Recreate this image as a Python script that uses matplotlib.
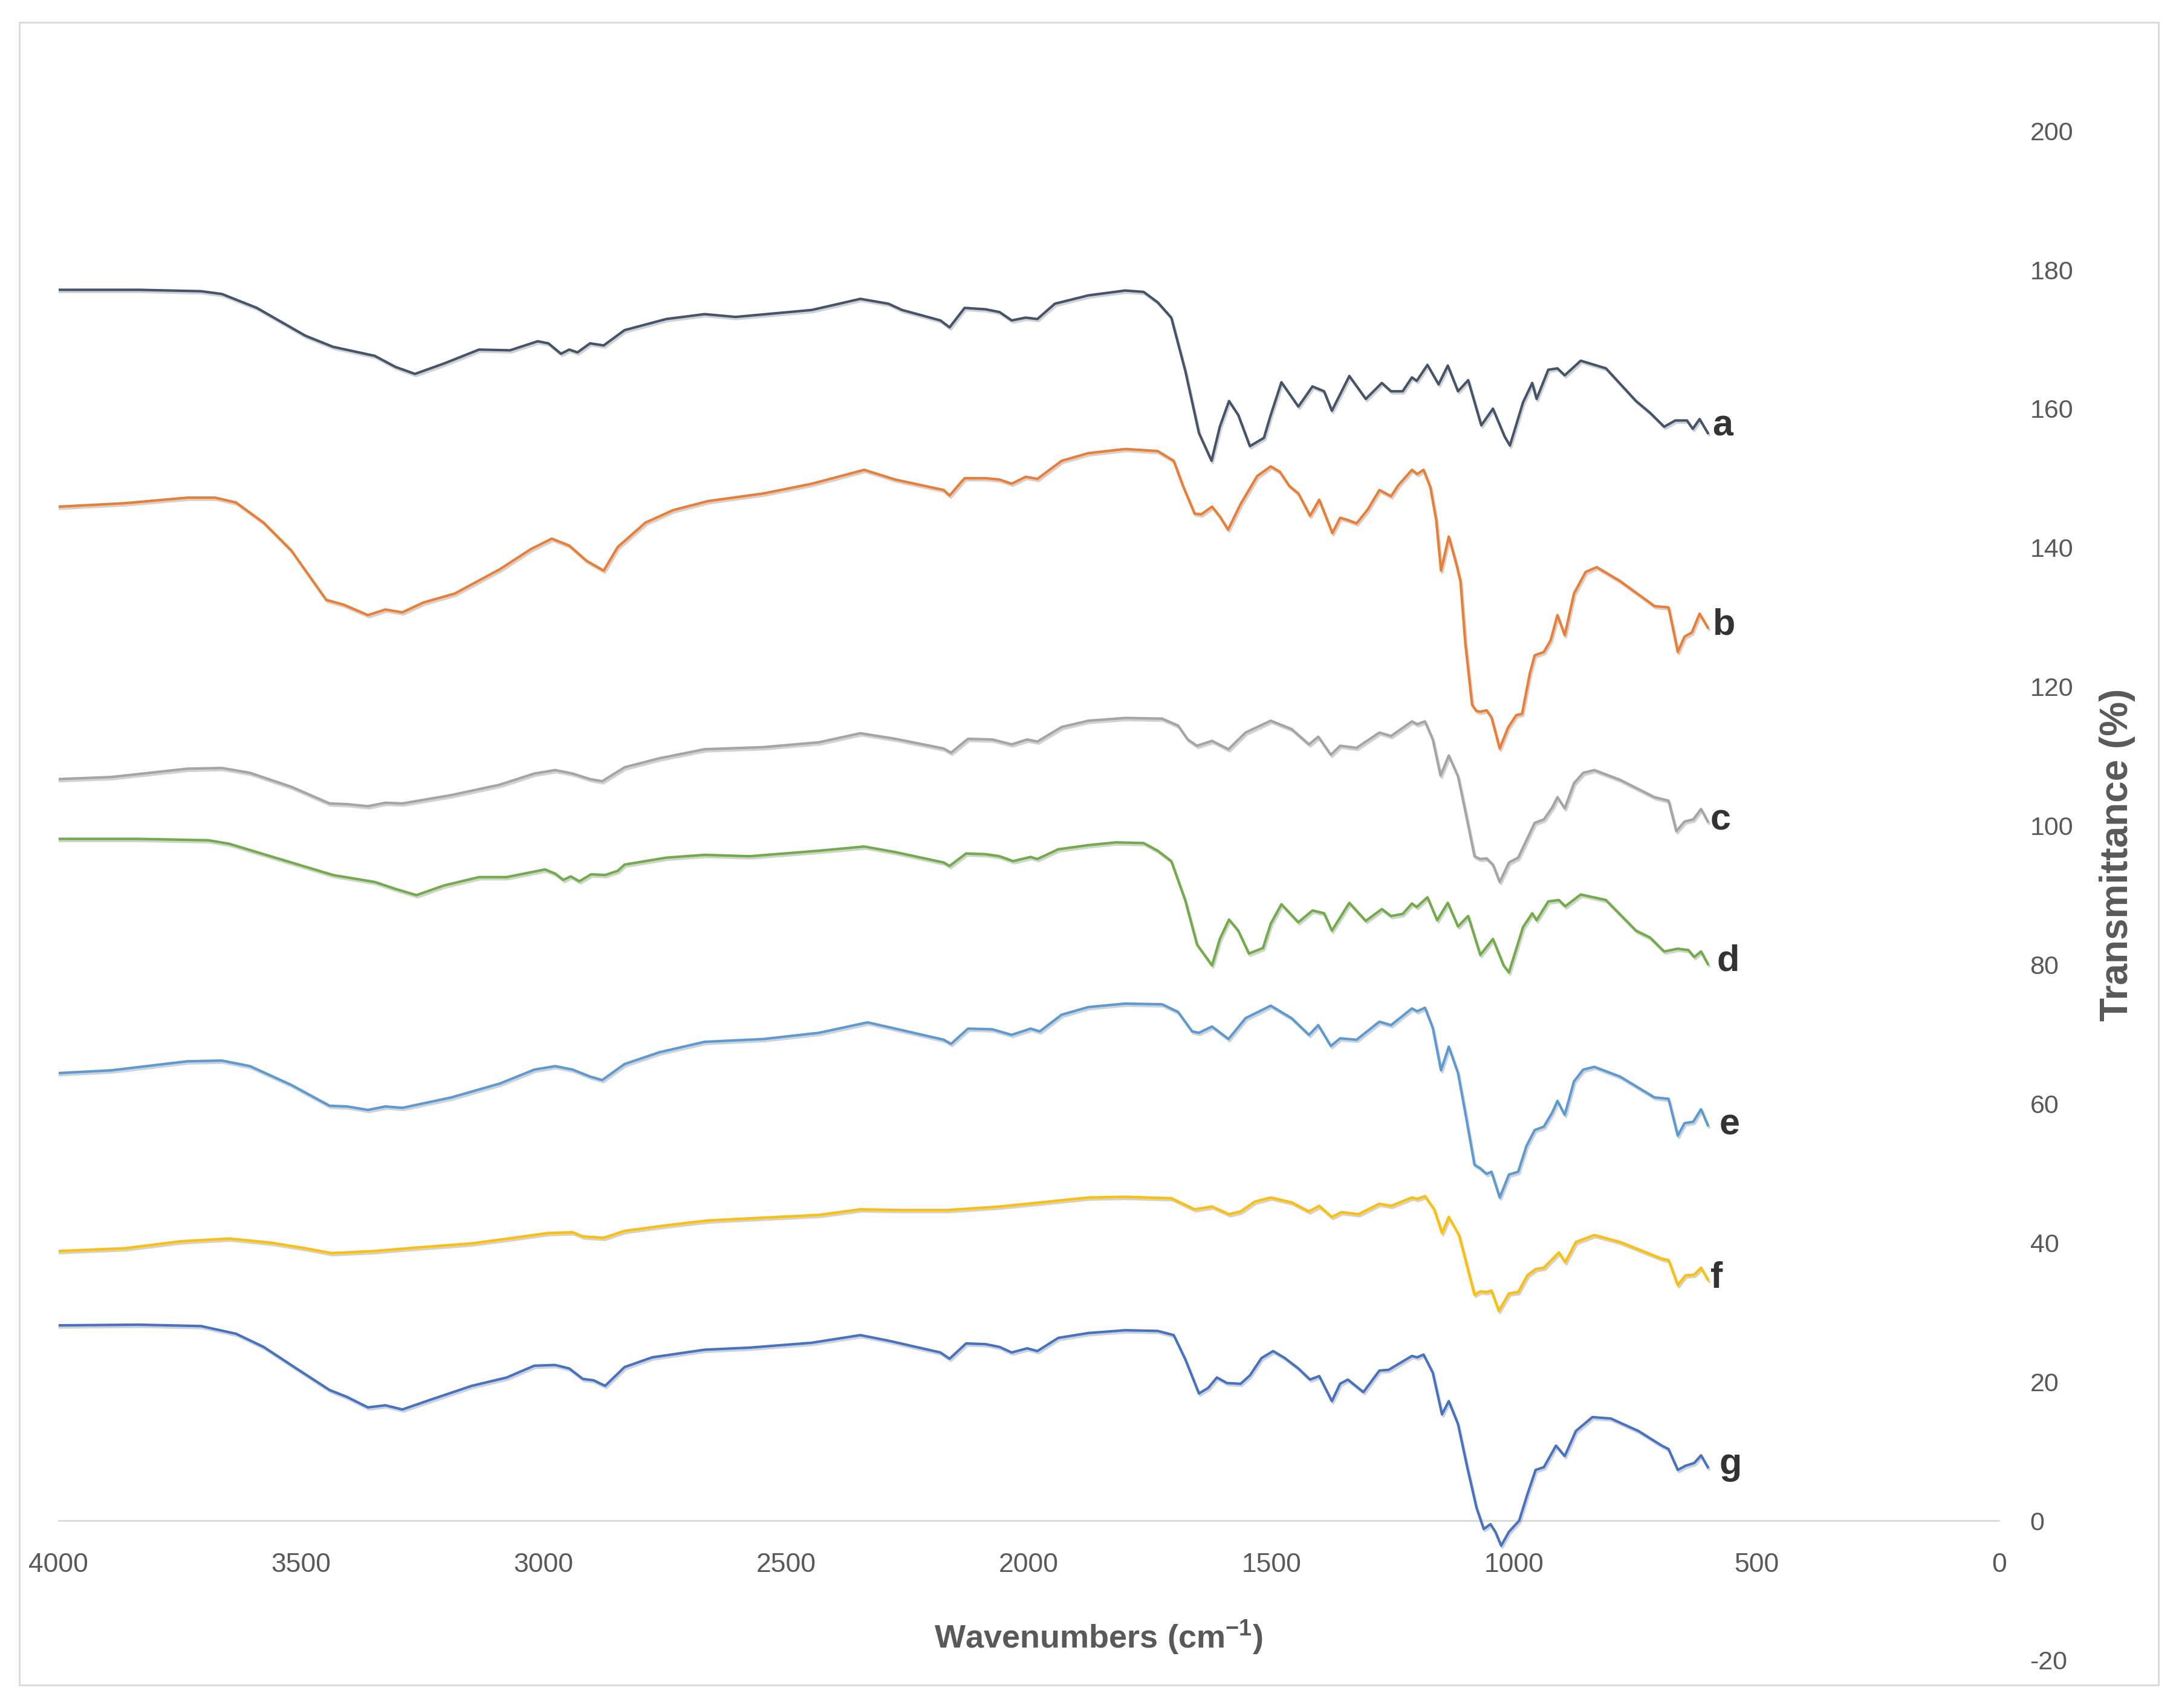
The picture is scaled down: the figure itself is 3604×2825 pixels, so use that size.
import matplotlib

matplotlib.use("Agg")
import matplotlib.patheffects as pe
import matplotlib.pyplot as plt
import numpy as np
from matplotlib.patches import Rectangle

# FTIR spectra, as (wavenumber cm-1, transmittance %)
spectrum_a = [
    (4000, 177.1), (3834, 177.1), (3706, 176.9), (3663, 176.5), (3591, 174.5), (3491, 170.5),
    (3434, 168.9), (3348, 167.6), (3305, 166.0), (3265, 165.0), (3205, 166.5), (3133, 168.5),
    (3069, 168.4), (3012, 169.7), (2990, 169.4), (2964, 167.9), (2947, 168.5), (2930, 168.1),
    (2904, 169.4), (2876, 169.1), (2833, 171.3), (2747, 172.9), (2668, 173.6), (2604, 173.2),
    (2447, 174.2), (2347, 175.8), (2289, 175.1), (2261, 174.2), (2182, 172.7), (2163, 171.7),
    (2132, 174.5), (2089, 174.3), (2060, 173.9), (2035, 172.7), (2006, 173.1), (1982, 172.9),
    (1946, 175.1), (1877, 176.3), (1801, 177.0), (1763, 176.8), (1734, 175.3), (1706, 173.1),
    (1677, 165.4), (1649, 156.5), (1623, 152.5), (1606, 157.4), (1587, 161.1), (1568, 159.1),
    (1544, 154.6), (1515, 155.8), (1501, 159.1), (1479, 163.8), (1444, 160.3), (1415, 163.2),
    (1391, 162.5), (1375, 159.7), (1339, 164.7), (1305, 161.4), (1272, 163.7), (1253, 162.5),
    (1229, 162.5), (1210, 164.5), (1200, 164.0), (1178, 166.3), (1155, 163.5), (1136, 166.2),
    (1115, 162.5), (1094, 164.1), (1067, 157.6), (1043, 160.0), (1019, 156.0), (1008, 154.7),
    (981, 160.9), (962, 163.7), (953, 161.4), (929, 165.6), (910, 165.8), (895, 164.8),
    (862, 166.9), (810, 165.8), (748, 161.1), (719, 159.4), (690, 157.4), (667, 158.3),
    (643, 158.3), (631, 157.1), (617, 158.5), (600, 156.5),
]
spectrum_b = [
    (4000, 145.9), (3863, 146.4), (3734, 147.2), (3677, 147.2), (3634, 146.5), (3577, 143.6),
    (3520, 139.6), (3448, 132.5), (3412, 131.8), (3362, 130.3), (3326, 131.1), (3291, 130.7),
    (3248, 132.1), (3183, 133.4), (3090, 136.9), (3026, 139.8), (2983, 141.3), (2947, 140.3),
    (2911, 138.1), (2876, 136.7), (2847, 140.1), (2790, 143.6), (2733, 145.4), (2661, 146.7),
    (2547, 147.8), (2447, 149.2), (2339, 151.2), (2275, 149.8), (2175, 148.3), (2163, 147.5),
    (2132, 150.0), (2089, 150.0), (2060, 149.8), (2035, 149.2), (2006, 150.2), (1982, 149.9),
    (1932, 152.5), (1877, 153.6), (1801, 154.2), (1734, 153.9), (1701, 152.5), (1682, 148.9),
    (1658, 144.9), (1644, 144.8), (1622, 145.9), (1606, 144.5), (1589, 142.6), (1563, 146.3),
    (1529, 150.3), (1501, 151.7), (1482, 150.9), (1463, 148.9), (1444, 147.8), (1420, 144.6),
    (1401, 146.9), (1374, 142.1), (1358, 144.3), (1343, 144.0), (1324, 143.5), (1301, 145.5),
    (1277, 148.3), (1253, 147.4), (1239, 148.9), (1210, 151.2), (1199, 150.6), (1186, 151.2),
    (1172, 148.7), (1160, 144.0), (1150, 136.7), (1134, 141.6), (1119, 137.8), (1110, 135.2),
    (1100, 126.3), (1086, 117.4), (1077, 116.5), (1069, 116.4), (1056, 116.6), (1046, 115.6),
    (1029, 111.1), (1012, 114.1), (995, 115.9), (983, 116.1), (967, 121.9), (957, 124.5),
    (938, 125.0), (924, 126.7), (910, 130.3), (895, 127.4), (876, 133.4), (852, 136.5),
    (829, 137.2), (781, 135.2), (710, 131.6), (681, 131.4), (671, 128.1), (662, 125.0),
    (648, 127.2), (633, 127.8), (617, 130.5), (600, 128.5),
]
spectrum_c = [
    (4000, 106.7), (3891, 107.0), (3734, 108.2), (3663, 108.3), (3605, 107.6), (3520, 105.6),
    (3441, 103.2), (3405, 103.1), (3362, 102.8), (3326, 103.3), (3291, 103.2), (3190, 104.4),
    (3090, 105.9), (3019, 107.5), (2976, 108.0), (2940, 107.5), (2904, 106.7), (2879, 106.4),
    (2833, 108.4), (2761, 109.7), (2668, 111.0), (2547, 111.3), (2432, 112.0), (2347, 113.3),
    (2275, 112.5), (2175, 111.1), (2160, 110.5), (2125, 112.5), (2075, 112.4), (2035, 111.7),
    (2003, 112.4), (1982, 112.1), (1932, 114.2), (1877, 115.1), (1801, 115.5), (1725, 115.4),
    (1692, 114.4), (1672, 112.4), (1653, 111.5), (1622, 112.2), (1588, 111.0), (1553, 113.4),
    (1501, 115.1), (1458, 113.9), (1422, 111.7), (1403, 112.8), (1377, 110.2), (1358, 111.5),
    (1324, 111.2), (1277, 113.4), (1253, 112.9), (1210, 115.0), (1199, 114.6), (1183, 115.0),
    (1167, 112.4), (1151, 107.2), (1134, 110.1), (1115, 107.1), (1100, 102.1), (1081, 95.6),
    (1069, 95.2), (1056, 95.3), (1043, 94.4), (1029, 91.9), (1010, 94.7), (991, 95.4),
    (976, 97.6), (957, 100.4), (938, 100.9), (921, 102.6), (910, 104.1), (895, 102.5),
    (876, 106.1), (857, 107.6), (834, 108.0), (781, 106.6), (710, 104.1), (681, 103.6),
    (665, 99.2), (648, 100.6), (630, 100.9), (614, 102.4), (600, 100.6),
]
spectrum_d = [
    (4000, 98.1), (3834, 98.1), (3691, 97.9), (3648, 97.4), (3577, 95.9), (3491, 94.1),
    (3434, 92.9), (3348, 91.9), (3305, 90.9), (3262, 90.0), (3205, 91.4), (3133, 92.6),
    (3076, 92.6), (2997, 93.7), (2976, 93.1), (2959, 92.2), (2944, 92.7), (2926, 92.0),
    (2902, 93.0), (2873, 92.9), (2847, 93.5), (2833, 94.4), (2747, 95.4), (2668, 95.8),
    (2575, 95.6), (2432, 96.4), (2339, 97.0), (2275, 96.2), (2175, 94.7), (2163, 94.2),
    (2129, 96.0), (2089, 95.9), (2060, 95.6), (2032, 94.9), (1996, 95.5), (1982, 95.2),
    (1939, 96.6), (1877, 97.2), (1820, 97.6), (1763, 97.5), (1734, 96.4), (1706, 94.9),
    (1677, 89.2), (1653, 82.9), (1622, 79.9), (1606, 83.7), (1587, 86.5), (1568, 84.9),
    (1546, 81.6), (1517, 82.4), (1501, 85.9), (1479, 88.7), (1444, 86.1), (1415, 87.8),
    (1391, 87.4), (1375, 84.9), (1339, 88.9), (1305, 86.3), (1272, 88.0), (1253, 87.0),
    (1229, 87.3), (1210, 88.8), (1200, 88.3), (1178, 89.7), (1158, 86.4), (1136, 88.9),
    (1115, 85.5), (1094, 87.0), (1069, 81.4), (1043, 83.7), (1021, 79.9), (1010, 78.9),
    (981, 85.4), (962, 87.4), (953, 86.4), (929, 89.1), (907, 89.3), (894, 88.4),
    (862, 90.1), (810, 89.3), (748, 84.9), (719, 83.9), (690, 81.9), (662, 82.3),
    (640, 82.1), (628, 81.1), (614, 81.9), (600, 80.1),
]
spectrum_e = [
    (4000, 64.4), (3891, 64.8), (3734, 66.1), (3663, 66.2), (3605, 65.4), (3520, 62.7),
    (3441, 59.7), (3405, 59.6), (3362, 59.1), (3326, 59.6), (3291, 59.4), (3190, 60.9),
    (3090, 62.9), (3019, 64.9), (2976, 65.4), (2940, 64.9), (2904, 63.9), (2879, 63.4),
    (2833, 65.7), (2761, 67.4), (2668, 68.9), (2547, 69.3), (2432, 70.2), (2332, 71.7),
    (2275, 70.8), (2175, 69.2), (2160, 68.6), (2125, 70.8), (2075, 70.7), (2035, 69.9),
    (1996, 70.8), (1977, 70.4), (1932, 72.8), (1877, 73.9), (1801, 74.4), (1725, 74.3),
    (1692, 73.2), (1663, 70.4), (1649, 70.2), (1622, 71.1), (1588, 69.3), (1553, 72.3),
    (1501, 74.1), (1458, 72.3), (1422, 69.9), (1403, 71.3), (1377, 68.3), (1358, 69.4),
    (1324, 69.2), (1277, 71.8), (1253, 71.3), (1210, 73.7), (1199, 73.3), (1183, 73.8),
    (1167, 70.9), (1150, 64.8), (1134, 68.2), (1115, 64.4), (1100, 58.7), (1081, 51.2),
    (1069, 50.7), (1056, 49.9), (1046, 50.2), (1029, 46.5), (1010, 49.8), (991, 50.2),
    (974, 53.9), (957, 56.2), (938, 56.7), (921, 58.7), (910, 60.4), (895, 58.4),
    (876, 63.2), (857, 64.9), (834, 65.3), (781, 63.9), (710, 60.9), (681, 60.7),
    (662, 55.4), (648, 57.2), (630, 57.4), (614, 59.2), (600, 56.9),
]
spectrum_f = [
    (4000, 38.8), (3863, 39.2), (3748, 40.2), (3648, 40.6), (3562, 40.0), (3491, 39.2),
    (3437, 38.5), (3348, 38.8), (3262, 39.3), (3148, 39.9), (3062, 40.7), (2990, 41.4),
    (2940, 41.5), (2919, 40.9), (2876, 40.7), (2833, 41.7), (2747, 42.5), (2661, 43.2),
    (2547, 43.6), (2432, 44.0), (2347, 44.8), (2261, 44.7), (2168, 44.7), (2060, 45.2),
    (1975, 45.8), (1877, 46.5), (1801, 46.6), (1706, 46.4), (1682, 45.6), (1658, 44.8),
    (1622, 45.2), (1587, 44.1), (1563, 44.5), (1534, 45.9), (1501, 46.5), (1458, 45.8),
    (1422, 44.5), (1401, 45.3), (1375, 43.7), (1355, 44.4), (1320, 44.1), (1277, 45.6),
    (1253, 45.3), (1210, 46.5), (1199, 46.3), (1183, 46.7), (1164, 44.8), (1148, 41.4),
    (1134, 43.7), (1113, 41.1), (1100, 37.6), (1081, 32.5), (1069, 33.0), (1056, 32.9),
    (1046, 33.1), (1031, 30.2), (1010, 32.7), (991, 32.9), (972, 35.3), (955, 36.2),
    (938, 36.4), (921, 37.6), (907, 38.6), (894, 37.2), (872, 40.1), (834, 41.1),
    (781, 40.1), (695, 37.7), (681, 37.5), (662, 33.9), (646, 35.3), (628, 35.4),
    (614, 36.4), (600, 34.7),
]
spectrum_g = [
    (4000, 28.1), (3834, 28.2), (3706, 28.0), (3634, 26.9), (3577, 25.0), (3505, 21.7),
    (3441, 18.8), (3405, 17.8), (3362, 16.3), (3326, 16.6), (3291, 16.0), (3233, 17.4),
    (3148, 19.4), (3076, 20.6), (3019, 22.3), (2976, 22.4), (2947, 21.9), (2919, 20.4),
    (2897, 20.2), (2873, 19.4), (2833, 22.1), (2776, 23.5), (2668, 24.6), (2575, 24.9),
    (2447, 25.6), (2347, 26.7), (2289, 25.9), (2182, 24.2), (2163, 23.3), (2129, 25.5),
    (2089, 25.4), (2060, 25.0), (2035, 24.2), (2003, 24.8), (1982, 24.4), (1939, 26.3),
    (1877, 27.0), (1801, 27.4), (1734, 27.3), (1701, 26.7), (1677, 23.2), (1649, 18.3),
    (1630, 19.1), (1612, 20.6), (1591, 19.8), (1563, 19.7), (1544, 20.9), (1520, 23.4),
    (1496, 24.4), (1472, 23.4), (1444, 21.9), (1420, 20.3), (1401, 20.8), (1375, 17.2),
    (1358, 19.7), (1342, 20.3), (1310, 18.5), (1277, 21.6), (1258, 21.7), (1210, 23.7),
    (1199, 23.5), (1186, 23.9), (1167, 21.3), (1148, 15.3), (1134, 17.2), (1115, 13.9),
    (1096, 7.7), (1077, 1.9), (1062, -1.2), (1048, -0.5), (1038, -1.6), (1026, -3.6),
    (1010, -1.6), (989, 0.0), (972, 3.8), (955, 7.3), (938, 7.7), (913, 10.8),
    (895, 9.3), (872, 12.9), (838, 14.9), (800, 14.7), (743, 12.9), (695, 10.8),
    (681, 10.3), (662, 7.3), (646, 7.9), (628, 8.3), (614, 9.4), (600, 7.7),
]

curve_names = ["a", "b", "c", "d", "e", "f", "g"]
curve_colors = ["#44546A", "#ED7D31", "#A5A5A5", "#70AD47", "#5B9BD5", "#FFC000", "#4472C4"]
# where each letter sits, (wavenumber of its left edge, baseline transmittance)
label_spots = [(590, 156.1), (590, 127.5), (595, 99.4), (581, 79.1), (576, 55.6), (595, 33.5), (576, 6.7)]

x_ticks = [4000, 3500, 3000, 2500, 2000, 1500, 1000, 500, 0]
y_ticks = [-20, 0, 20, 40, 60, 80, 100, 120, 140, 160, 180, 200]

TICK_GRAY = "#595959"
AXIS_GRAY = "#D9D9D9"


def draw_spectra(ax) -> None:
    spectra = [spectrum_a, spectrum_b, spectrum_c, spectrum_d, spectrum_e, spectrum_f, spectrum_g]
    shadow = [pe.SimpleLineShadow(offset=(1.5, -2.5), shadow_color="#7f7f7f", alpha=0.35), pe.Normal()]
    for spectrum, color, name, spot in zip(spectra, curve_colors, curve_names, label_spots):
        points = np.array(spectrum)
        ax.plot(points[:, 0], points[:, 1], color=color, lw=3.0, path_effects=shadow, zorder=3)
        ax.text(spot[0], spot[1], name, ha="left", va="baseline", fontsize=44,
                fontweight="bold", color="#333333", family=["Liberation Sans", "DejaVu Sans"])


def style_axes(ax) -> None:
    ax.set_xlim(4000, 0)
    ax.set_ylim(-20, 200)
    ax.set_xticks(x_ticks)
    ax.set_yticks(y_ticks)

    for side in ("top", "left", "right"):
        ax.spines[side].set_visible(False)
    ax.spines["bottom"].set_position(("data", 0))
    ax.spines["bottom"].set_color(AXIS_GRAY)
    ax.spines["bottom"].set_linewidth(2)

    ax.yaxis.tick_right()
    ax.tick_params(axis="x", length=0, pad=38, labelsize=32, labelcolor=TICK_GRAY)
    ax.tick_params(axis="y", length=0, pad=37, labelsize=31, labelcolor=TICK_GRAY)
    for label in ax.get_xticklabels() + ax.get_yticklabels():
        label.set_family(["Liberation Sans", "DejaVu Sans"])


def main() -> None:
    plt.rcParams["axes.unicode_minus"] = False
    plt.rcParams["mathtext.fontset"] = "custom"
    plt.rcParams["mathtext.rm"] = "Liberation Sans:bold"
    plt.rcParams["mathtext.bf"] = "Liberation Sans:bold"

    fig = plt.figure(figsize=(36.05, 28.25), dpi=100)
    ax = fig.add_axes([0.0268, 0.0283, 0.8903, 0.8952])

    draw_spectra(ax)
    style_axes(ax)

    title_font = ["Liberation Sans", "DejaVu Sans"]
    fig.text(0.504, 0.0414, r"Wavenumbers (cm$^{-1}$)", ha="center", va="center",
             fontsize=39, fontweight="bold", color=TICK_GRAY, family=title_font)
    fig.text(0.9713, 0.4995, "Transmittance (%)", ha="center", va="center", rotation=90,
             fontsize=46, fontweight="bold", color=TICK_GRAY, family=title_font)

    # chart-area border
    fig.patches.append(Rectangle((32 / 3605, 1 - 2787 / 2825), (3570 - 32) / 3605, (2787 - 37) / 2825,
                                 transform=fig.transFigure, fill=False, edgecolor=AXIS_GRAY, lw=2))

    fig.savefig("out.png", dpi=100, facecolor="white")
    plt.close(fig)


if __name__ == "__main__":
    main()
